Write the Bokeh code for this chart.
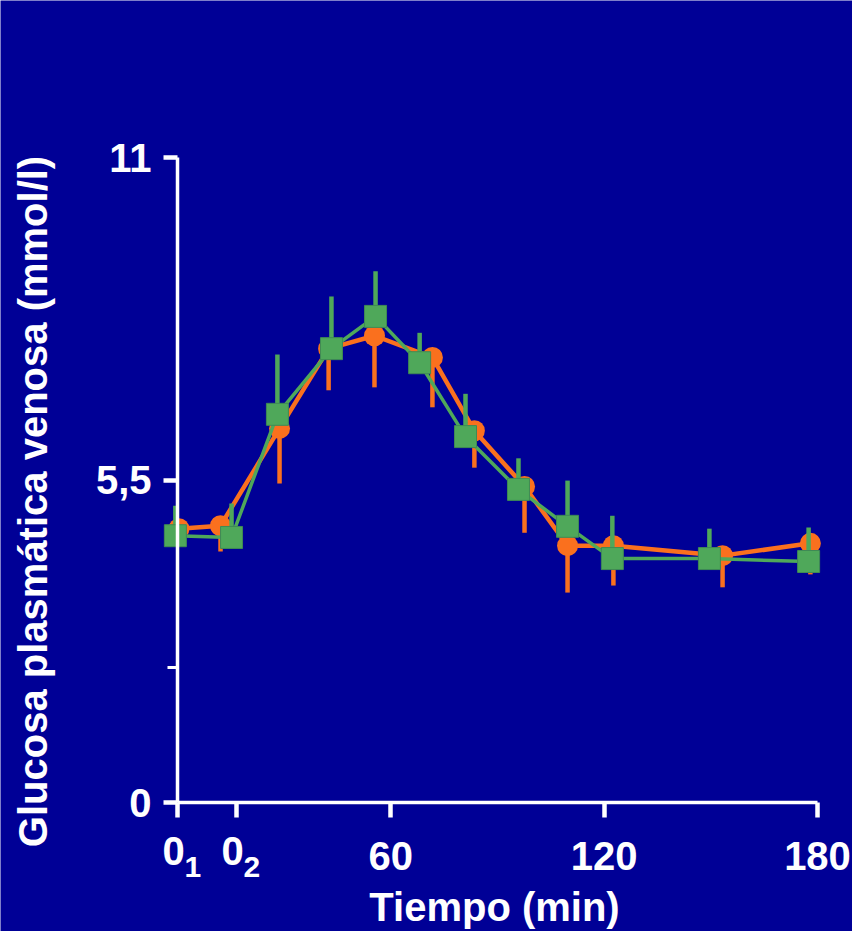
import math
import numpy as np
from bokeh.plotting import figure
from bokeh.models import Range1d, FixedTicker, Label
from bokeh.embed import file_html
from bokeh.resources import INLINE

# Venous plasma glucose (mmol/l) over time (min): mean and SD for two groups
time_orange = [0.4, 12.1, 28.7, 42.5, 55.4, 71.7, 83.5, 97.6, 109.7, 122.6, 153.3, 178.0]
gluc_orange = [4.67, 4.72, 6.38, 7.74, 7.96, 7.59, 6.34, 5.39, 4.38, 4.38, 4.21, 4.42]
sd_orange = [0.20, 0.44, 0.94, 0.71, 0.88, 0.85, 0.63, 0.79, 0.80, 0.68, 0.54, 0.53]

time_green = [-0.6, 15.2, 28.1, 43.3, 55.7, 68.1, 81.0, 95.9, 109.7, 122.3, 149.6, 177.5]
gluc_green = [4.55, 4.52, 6.62, 7.74, 8.29, 7.50, 6.24, 5.34, 4.71, 4.16, 4.16, 4.11]
sd_green = [0.51, 0.58, 1.02, 0.89, 0.77, 0.51, 0.73, 0.53, 0.78, 0.73, 0.51, 0.58]

# Axis ticks; the two baseline samples are labelled 0 with a subscript
x_ticks = [0, 16.6, 60, 120, 180]
x_tick_labels = ["0", "0", "60", "120", "180"]
x_tick_subs = ["1", "2", "", "", ""]
y_ticks = [0, 5.5, 11]
y_tick_labels = ["0", "5,5", "11"]
y_minor_ticks = [2.3]

x_title = "Tiempo (min)"
y_title = "Glucosa plasmática venosa (mmol/l)"

BG = "#000096"
ORANGE = "#FA701E"
GREEN = "#4FA85A"
WHITE = "#FFFFFF"
FONT = "Liberation Sans"

# Canvas geometry: the frame fills the whole page, axes sit at fixed data positions
W, H = 852, 931
X0_PX, XMAX_PX = 177, 817
Y0_PX, YMAX_PX = 802, 157
sx = (XMAX_PX - X0_PX) / 180.0
sy = (Y0_PX - YMAX_PX) / 11.0


def dx(px):
    return (px - X0_PX) / sx


def dy(py):
    return (Y0_PX - py) / sy


p = figure(width=W, height=H,
           x_range=Range1d(dx(0), dx(W)), y_range=Range1d(dy(H), dy(0)),
           output_backend="svg", toolbar_location=None, min_border=0,
           background_fill_color=BG, border_fill_color=BG,
           outline_line_color=None)
p.grid.visible = False

# Orange series: line, lower SD bars, circles
to = np.array(time_orange)
go = np.array(gluc_orange)
so = np.array(sd_orange)
p.line(to, go, line_color=ORANGE, line_width=4.5)
p.segment(x0=to, y0=go, x1=to, y1=go - so, line_color=ORANGE, line_width=4.5)
p.scatter(to, go, marker="circle", size=21, fill_color=ORANGE, line_color=None)

# Green series: line, upper SD bars, squares
tg = np.array(time_green)
gg = np.array(gluc_green)
sg = np.array(sd_green)
p.line(tg, gg, line_color=GREEN, line_width=3.5)
p.segment(x0=tg, y0=gg, x1=tg, y1=gg + sg, line_color=GREEN, line_width=4.5)
p.scatter(tg, gg, marker="square", size=22, fill_color=GREEN,
          line_color="#3F8A55", line_width=1)

# Axes drawn at x=0 and y=0
xa = p.xaxis[0]
xa.fixed_location = 0
xa.bounds = (0, 180)
xa.ticker = FixedTicker(ticks=x_ticks)
xa.major_label_overrides = {t: (lab if not sub else "")
                            for t, lab, sub in zip(x_ticks, x_tick_labels, x_tick_subs)}
xa.major_tick_out = 15
xa.major_tick_in = 0
xa.major_label_standoff = 24

ya = p.yaxis[0]
ya.fixed_location = 0
ya.bounds = (0, 11)
ya.ticker = FixedTicker(ticks=y_ticks, minor_ticks=y_minor_ticks)
ya.major_label_overrides = dict(zip(y_ticks, y_tick_labels))
ya.major_tick_out = 14
ya.major_tick_in = 0
ya.minor_tick_out = 10
ya.minor_tick_in = 0
ya.minor_tick_line_color = WHITE
ya.minor_tick_line_width = 3
ya.major_label_standoff = 12

for ax in (xa, ya):
    ax.axis_line_color = WHITE
    ax.axis_line_width = 3.5
    ax.major_tick_line_color = WHITE
    ax.major_tick_line_width = 4.5
    ax.major_label_text_color = WHITE
    ax.major_label_text_font = FONT
    ax.major_label_text_font_style = "bold"
    ax.major_label_text_font_size = "40px"

# Subscripted baseline tick labels
for t, lab, sub in zip(x_ticks, x_tick_labels, x_tick_subs):
    if not sub:
        continue
    p.add_layout(Label(x=t, y=dy(850), text=lab, text_align="center",
                       text_baseline="alphabetic", x_offset=-4,
                       text_color=WHITE, text_font=FONT, text_font_style="bold",
                       text_font_size="40px"))
    p.add_layout(Label(x=t, y=dy(866), text=sub, text_align="left",
                       text_baseline="alphabetic", x_offset=7,
                       text_color=WHITE, text_font=FONT, text_font_style="bold",
                       text_font_size="30px"))

# Axis titles
p.add_layout(Label(x=dx(494), y=dy(906), text=x_title, text_align="center",
                   text_baseline="alphabetic", text_color=WHITE, text_font=FONT,
                   text_font_style="bold", text_font_size="40px"))
p.add_layout(Label(x=dx(32), y=dy(501), text=y_title, angle=math.pi / 2,
                   text_align="center", text_baseline="alphabetic",
                   text_color=WHITE, text_font=FONT, text_font_style="bold",
                   text_font_size="40px"))

html = file_html(p, INLINE)
html = html.replace("<body>", '<body style="margin:0;background:%s">' % BG, 1)
open("out.html", "w").write(html)
